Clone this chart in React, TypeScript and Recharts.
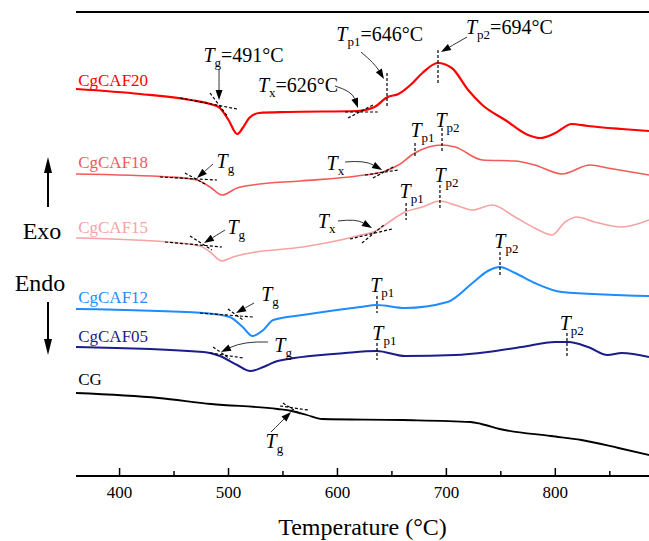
import React from 'react';
import { LineChart, Line, XAxis, YAxis, ReferenceLine, ReferenceDot } from 'recharts';

const FONT = '"Liberation Serif", "Times New Roman", serif';

// temperatures (°C) and heat flow (arbitrary units, exo up)
const cgcaf20Temp = [360, 419, 465, 483, 492, 500, 508, 513, 519, 528, 554, 618, 634, 646, 656, 667, 678, 692, 705, 720, 733, 754, 775, 786, 800, 815, 830, 861, 886];
const cgcaf20Flow = [387, 382, 376, 372, 368, 356, 342, 348, 358, 363, 364, 365, 369, 379, 382, 391, 403, 413, 408, 386, 371, 356, 341, 338, 343, 352, 350, 347, 345];

const cgcaf18Temp = [360, 446, 471, 483, 494, 508, 522, 566, 618, 644, 656, 671, 696, 708, 733, 763, 781, 806, 832, 848, 886];
const cgcaf18Flow = [302, 299, 296, 289, 281, 288, 291, 295, 300, 305, 311, 323, 331, 329, 316, 315, 311, 302, 311, 308, 301];

const cgcaf15Temp = [360, 444, 474, 483, 494, 504, 520, 568, 618, 637, 650, 662, 678, 694, 708, 724, 742, 763, 781, 797, 809, 820, 836, 861, 886];
const cgcaf15Flow = [238, 234, 230, 224, 215, 219, 223, 229, 240, 246, 256, 264, 269, 275, 271, 266, 271, 259, 248, 241, 254, 259, 254, 249, 256];

const cgcaf12Temp = [360, 477, 501, 513, 522, 532, 541, 568, 621, 636, 662, 701, 724, 738, 749, 763, 781, 806, 886];
const cgcaf12Flow = [167, 163, 159, 149, 140, 146, 156, 161, 169, 171, 168, 174, 193, 205, 209, 203, 193, 184, 180];

const cgcaf05Temp = [360, 477, 492, 508, 520, 532, 545, 607, 636, 662, 708, 738, 769, 800, 812, 830, 848, 861, 886];
const cgcaf05Flow = [129, 124, 120, 111, 105, 109, 115, 123, 125, 120, 121, 124, 129, 134, 134, 129, 121, 123, 119];

const cgTemp = [360, 436, 484, 545, 558, 572, 586, 660, 722, 732, 749, 796, 824, 858, 886];
const cgFlow = [83, 78, 72, 67, 65, 61, 57, 56, 54, 52, 47, 40, 36, 28, 21];

const xTicks = [400, 450, 500, 550, 600, 650, 700, 750, 800, 850];

const toRows = (temps: number[], flows: number[]) => temps.map((t, i) => ({ t, v: flows[i] }));

const series = [
  { name: 'CgCAF20', color: '#ff0000', width: 2.2, labelY: 390, data: toRows(cgcaf20Temp, cgcaf20Flow) },
  { name: 'CgCAF18', color: '#f25a5a', width: 1.6, labelY: 308, data: toRows(cgcaf18Temp, cgcaf18Flow) },
  { name: 'CgCAF15', color: '#f5a3a3', width: 1.6, labelY: 243, data: toRows(cgcaf15Temp, cgcaf15Flow) },
  { name: 'CgCAF12', color: '#1e8cff', width: 2, labelY: 173, data: toRows(cgcaf12Temp, cgcaf12Flow) },
  { name: 'CgCAF05', color: '#1c1c8c', width: 2, labelY: 134, data: toRows(cgcaf05Temp, cgcaf05Flow) },
  { name: 'CG', color: '#000000', width: 1.8, labelY: 91, data: toRows(cgTemp, cgFlow) },
];

// characteristic temperature labels: position (°C, flow), subscript, trailing text
const symbols = [
  { t: 477, v: 414, sub: 'g', rest: '=491°C' },
  { t: 527, v: 384, sub: 'x', rest: '=626°C' },
  { t: 599, v: 435, sub: 'p1', rest: '=646°C' },
  { t: 718, v: 442, sub: 'p2', rest: '=694°C' },
  { t: 489, v: 308, sub: 'g', rest: '' },
  { t: 590, v: 306, sub: 'x', rest: '' },
  { t: 667, v: 339, sub: 'p1', rest: '' },
  { t: 690, v: 349, sub: 'p2', rest: '' },
  { t: 499, v: 242, sub: 'g', rest: '' },
  { t: 582, v: 248, sub: 'x', rest: '' },
  { t: 657, v: 278, sub: 'p1', rest: '' },
  { t: 689, v: 294, sub: 'p2', rest: '' },
  { t: 530, v: 175, sub: 'g', rest: '' },
  { t: 630, v: 184, sub: 'p1', rest: '' },
  { t: 744, v: 228, sub: 'p2', rest: '' },
  { t: 542, v: 124, sub: 'g', rest: '' },
  { t: 632, v: 136, sub: 'p1', rest: '' },
  { t: 804, v: 146, sub: 'p2', rest: '' },
  { t: 534, v: 28, sub: 'g', rest: '' },
];

// vertical dashed markers at the peaks
const peakMarks = [
  { t: 645.5, v1: 403, v2: 368 },
  { t: 692.3, v1: 426, v2: 392 },
  { t: 671.2, v1: 333, v2: 318 },
  { t: 696, v1: 348, v2: 324 },
  { t: 663, v1: 273, v2: 256 },
  { t: 694.1, v1: 291, v2: 266 },
  { t: 636.3, v1: 180, v2: 163 },
  { t: 749.2, v1: 224, v2: 201 },
  { t: 636.3, v1: 133, v2: 116 },
  { t: 810.7, v1: 143, v2: 118 },
];

// dashed tangent construction lines
const tangents = [
  { t1: 455.5, v1: 378, t2: 507.8, v2: 367 },
  { t1: 483, v1: 383, t2: 499.5, v2: 359 },
  { t1: 607, v1: 364, t2: 637, v2: 364 },
  { t1: 609.7, v1: 358, t2: 632.6, v2: 371 },
  { t1: 437, v1: 299, t2: 489.4, v2: 296 },
  { t1: 460, v1: 303, t2: 478.4, v2: 292 },
  { t1: 625.3, v1: 301, t2: 655.6, v2: 306 },
  { t1: 632.6, v1: 298, t2: 652.8, v2: 310 },
  { t1: 441.7, v1: 234, t2: 494, v2: 229 },
  { t1: 464.6, v1: 240, t2: 484.8, v2: 226 },
  { t1: 611.5, v1: 237, t2: 650.1, v2: 247 },
  { t1: 622.5, v1: 233, t2: 643.7, v2: 252 },
  { t1: 473.8, v1: 163, t2: 522.5, v2: 159 },
  { t1: 499.5, v1: 167, t2: 513.3, v2: 156 },
  { t1: 483, v1: 123, t2: 513.3, v2: 118 },
  { t1: 485.8, v1: 129, t2: 501.4, v2: 117 },
  { t1: 547.3, v1: 70, t2: 573, v2: 66 },
  { t1: 550, v1: 73, t2: 565.6, v2: 62 },
];

// pointer arrows (tail -> head), bend in px
const arrows = [
  { t1: 491.3, v1: 406, t2: 491.3, v2: 376, bend: 0 },
  { t1: 597.7, v1: 390, t2: 618.9, v2: 368, bend: 8 },
  { t1: 621.6, v1: 424, t2: 642.7, v2: 397, bend: 3 },
  { t1: 718.9, v1: 439, t2: 695, v2: 424, bend: 0 },
  { t1: 485.8, v1: 312, t2: 471.1, v2: 298, bend: 0 },
  { t1: 607, v1: 314, t2: 641, v2: 306, bend: 6 },
  { t1: 496.8, v1: 246, t2: 477.5, v2: 233, bend: 0 },
  { t1: 600.5, v1: 255, t2: 631.7, v2: 248, bend: 6 },
  { t1: 523.4, v1: 173, t2: 506.9, v2: 163, bend: 0 },
  { t1: 536.2, v1: 134, t2: 493.1, v2: 124, bend: -6 },
  { t1: 539, v1: 44, t2: 557.4, v2: 64, bend: 0 },
];

const AxisTick = (props: any) => {
  const { x, y, payload } = props;
  const major = payload.value % 100 === 0;
  return (
    <g>
      <line x1={x} x2={x} y1={y} y2={y - (major ? 8 : 5)} stroke="#000" strokeWidth={1.5} />
      {major && (
        <text x={x} y={y + 22} textAnchor="middle" fontFamily={FONT} fontSize={17} fill="#000">
          {payload.value}
        </text>
      )}
    </g>
  );
};

const AxisTitle = (props: any) => {
  const { viewBox } = props;
  return (
    <text
      x={viewBox.x + viewBox.width / 2}
      y={viewBox.y + viewBox.height - 6}
      textAnchor="middle"
      fontFamily={FONT}
      fontSize={24}
      fill="#000"
    >
      Temperature (°C)
    </text>
  );
};

const arrowShape = (bend: number) => (p: any) => {
  const { x1, y1, x2, y2 } = p;
  const dx = x2 - x1;
  const dy = y2 - y1;
  const len = Math.hypot(dx, dy) || 1;
  const cx = (x1 + x2) / 2 + (dy / len) * bend;
  const cy = (y1 + y2) / 2 - (dx / len) * bend;
  const el = Math.hypot(x2 - cx, y2 - cy) || 1;
  const ux = (x2 - cx) / el;
  const uy = (y2 - cy) / el;
  const bx = x2 - ux * 10;
  const by = y2 - uy * 10;
  return (
    <g>
      <path d={`M${x1},${y1} Q${cx},${cy} ${bx},${by}`} fill="none" stroke="#333" strokeWidth={1} />
      <polygon points={`${x2},${y2} ${bx - uy * 3.5},${by + ux * 3.5} ${bx + uy * 3.5},${by - ux * 3.5}`} fill="#000" />
    </g>
  );
};

const symbolShape = (sub: string, rest: string) => (p: any) => (
  <text x={p.cx} y={p.cy} fontFamily={FONT} fontSize={20} fill="#000">
    <tspan fontStyle="italic">T</tspan>
    <tspan fontSize={13} dy={5}>{sub}</tspan>
    {rest ? <tspan dy={-5}>{rest}</tspan> : null}
  </text>
);

const nameShape = (name: string, color: string) => (p: any) => (
  <text x={p.cx} y={p.cy} fontFamily={FONT} fontSize={17} fill={color}>
    {name}
  </text>
);

export default function App() {
  return (
    <div style={{ position: 'absolute', left: 0, top: 0, width: 649, height: 541, background: '#fff', fontFamily: FONT }}>
      <LineChart width={649} height={541} margin={{ top: 12, right: 0, bottom: 0, left: 76 }}>
        <XAxis
          type="number"
          dataKey="t"
          domain={[360, 886]}
          ticks={xTicks}
          allowDataOverflow
          height={65}
          tickSize={0}
          tickMargin={0}
          tickLine={false}
          tick={<AxisTick />}
          axisLine={{ stroke: '#000', strokeWidth: 2 }}
          label={<AxisTitle />}
        />
        <YAxis
          type="number"
          domain={[0, 464]}
          allowDataOverflow
          width={0}
          tick={false}
          tickLine={false}
          axisLine={{ stroke: '#000', strokeWidth: 2 }}
        />
        <ReferenceLine y={464} stroke="#000" strokeWidth={2} />
        {series.map((s) => (
          <Line
            key={s.name}
            data={s.data}
            dataKey="v"
            type="monotone"
            stroke={s.color}
            strokeWidth={s.width}
            dot={false}
            activeDot={false}
            isAnimationActive={false}
          />
        ))}
        {tangents.map((d, i) => (
          <ReferenceLine
            key={`tan${i}`}
            segment={[{ x: d.t1, y: d.v1 }, { x: d.t2, y: d.v2 }]}
            stroke="#000"
            strokeWidth={1.2}
            strokeDasharray="3 2"
          />
        ))}
        {peakMarks.map((d, i) => (
          <ReferenceLine
            key={`pk${i}`}
            segment={[{ x: d.t, y: d.v1 }, { x: d.t, y: d.v2 }]}
            stroke="#000"
            strokeWidth={1.2}
            strokeDasharray="3 2"
          />
        ))}
        {arrows.map((d, i) => (
          <ReferenceLine
            key={`ar${i}`}
            segment={[{ x: d.t1, y: d.v1 }, { x: d.t2, y: d.v2 }]}
            shape={arrowShape(d.bend)}
          />
        ))}
        {symbols.map((d, i) => (
          <ReferenceDot key={`sym${i}`} x={d.t} y={d.v} r={0} shape={symbolShape(d.sub, d.rest)} />
        ))}
        {series.map((s) => (
          <ReferenceDot key={`nm${s.name}`} x={362} y={s.labelY} r={0} shape={nameShape(s.name, s.color)} />
        ))}
      </LineChart>
      <svg width={76} height={541} style={{ position: 'absolute', left: 0, top: 0 }}>
        <line x1={48} x2={48} y1={207} y2={170} stroke="#000" strokeWidth={2} />
        <polygon points="48,157 44,173 52,173" fill="#000" />
        <text x={42} y={239} textAnchor="middle" fontFamily={FONT} fontSize={24} fill="#000">Exo</text>
        <text x={40} y={291} textAnchor="middle" fontFamily={FONT} fontSize={24} fill="#000">Endo</text>
        <line x1={48} x2={48} y1={302} y2={342} stroke="#000" strokeWidth={2} />
        <polygon points="48,355 44,339 52,339" fill="#000" />
      </svg>
    </div>
  );
}
